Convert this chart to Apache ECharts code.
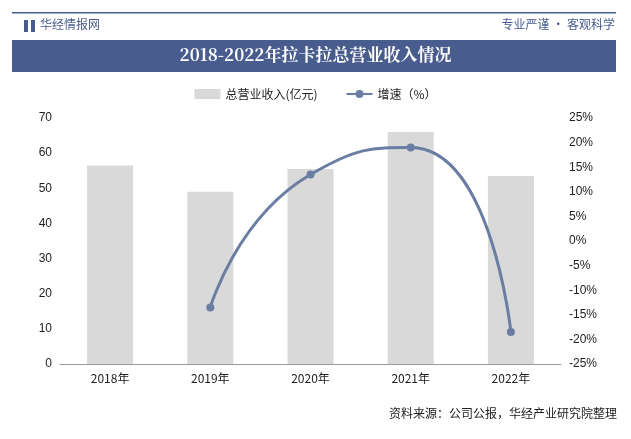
<!DOCTYPE html>
<html><head><meta charset="utf-8">
<script src="https://cdn.jsdelivr.net/npm/echarts@6/dist/echarts.min.js"></script>
<style>html,body{margin:0;padding:0;background:#fff}#c{width:631px;height:439px}</style>
</head><body><div id="c"></div>
<script>
const categories=['2018年','2019年','2020年','2021年','2022年'];
const revenue=[56.5,49,55.5,66,53.5];
const growth=[null,-13.5,13.5,19,-18.5];
const chart=echarts.init(document.getElementById('c'));
const F='"Noto Sans CJK SC"';
chart.setOption({
  animation:false,
  graphic:[
    {type:'rect',shape:{x:12,y:12,width:604,height:1.5},style:{fill:'#485c8e'}},
    {type:'rect',shape:{x:24,y:20,width:4,height:12},style:{fill:'#485c8e'}},
    {type:'rect',shape:{x:31,y:20,width:4,height:12},style:{fill:'#485c8e'}},
    {type:'text',left:40,top:18,style:{text:'华经情报网',font:'12px '+F,fill:'#485c8e'}},
    {type:'text',right:16,top:18,style:{text:'专业严谨 • 客观科学',font:'12px '+F,fill:'#485c8e'}},
    {type:'rect',shape:{x:12,y:40,width:604,height:32},style:{fill:'#485c8e'}},
    {type:'text',left:'center',top:46,style:{text:'2018-2022年拉卡拉总营业收入情况',font:'bold 17px "Noto Serif CJK SC", serif',fill:'#fff'}},
    {type:'text',right:14,top:407,style:{text:'资料来源：公司公报，华经产业研究院整理',font:'12px '+F,fill:'#222'}}
  ],
  legend:{top:83,left:'center',itemGap:28,textStyle:{fontFamily:F,fontSize:12,color:'#222'},
    data:[{name:'总营业收入(亿元)',icon:'rect'},{name:'增速（%）'}],itemWidth:26,itemHeight:10},
  grid:{left:60,right:70,top:118,bottom:75},
  xAxis:{type:'category',data:categories,axisTick:{show:false},axisLine:{lineStyle:{color:'#999'}},
    axisLabel:{color:'#222',fontSize:12,fontFamily:F}},
  yAxis:[{type:'value',min:0,max:70,interval:10,splitLine:{show:false},axisLine:{show:false},
    axisLabel:{color:'#222',fontSize:12}},
    {type:'value',min:-25,max:25,interval:5,splitLine:{show:false},axisLabel:{formatter:'{value}%',color:'#222',fontSize:12}}],
  series:[
    {name:'总营业收入(亿元)',type:'bar',data:revenue,barWidth:46,itemStyle:{color:'#d9d9d9'}},
    {name:'增速（%）',type:'line',yAxisIndex:1,data:growth,smooth:0.6,symbol:'circle',symbolSize:8,
      lineStyle:{color:'#6a7ea3',width:3},itemStyle:{color:'#6a7ea3'}}
  ]
});
</script></body></html>
